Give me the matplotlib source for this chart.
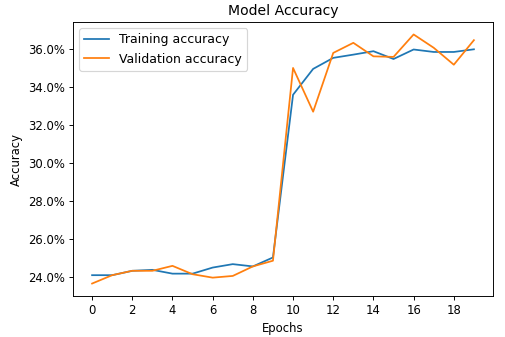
import matplotlib
matplotlib.use("Agg")
import matplotlib.pyplot as plt
from matplotlib.ticker import PercentFormatter, MultipleLocator

epochs = list(range(20))
train_acc = [24.09, 24.09, 24.32, 24.37, 24.17, 24.17, 24.49, 24.67, 24.55, 25.02,
             33.57, 34.93, 35.51, 35.68, 35.86, 35.45, 35.95, 35.82, 35.82, 35.96]
val_acc = [23.65, 24.09, 24.32, 24.32, 24.58, 24.14, 23.96, 24.05, 24.55, 24.85,
           34.98, 32.68, 35.77, 36.30, 35.59, 35.56, 36.74, 36.04, 35.15, 36.44]

dpi = 505 / 6
fig = plt.figure(figsize=(6, 337 / dpi), dpi=dpi)
ax = fig.add_axes([73 / 505, 1 - 296 / 337, (493 - 73) / 505, (296 - 22) / 337])
ax.plot(epochs, [v / 100 for v in train_acc], label="Training accuracy")
ax.plot(epochs, [v / 100 for v in val_acc], label="Validation accuracy")
ax.set_title("Model Accuracy")
ax.set_xlabel("Epochs")
ax.set_ylabel("Accuracy")
ax.xaxis.set_major_locator(MultipleLocator(2))
ax.yaxis.set_major_locator(MultipleLocator(0.02))
ax.yaxis.set_major_formatter(PercentFormatter(xmax=1, decimals=1))
ax.legend(loc="upper left", fontsize=10.7)
fig.savefig("out.png", dpi=dpi)
